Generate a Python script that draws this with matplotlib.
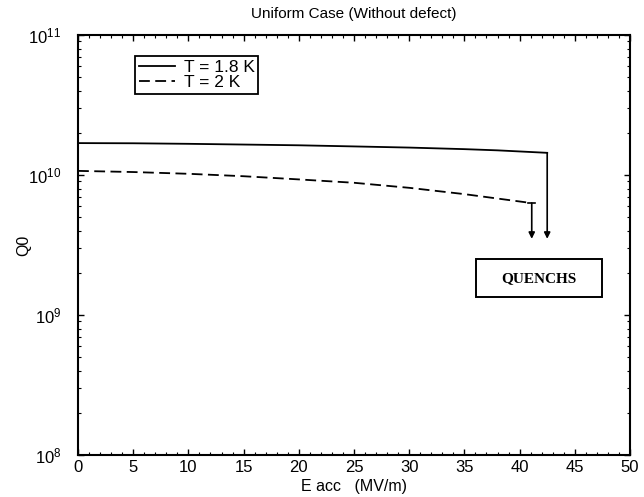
import numpy as np
import matplotlib.pyplot as plt
from matplotlib.patches import Rectangle
from matplotlib.ticker import MultipleLocator, LogLocator, NullFormatter

plt.rcParams['font.family'] = ['Liberation Sans', 'DejaVu Sans']
plt.rcParams['mathtext.fontset'] = 'custom'
plt.rcParams['mathtext.rm'] = 'Liberation Sans'
plt.rcParams['mathtext.it'] = 'Liberation Sans'

e_18 = [0, 5, 10, 15, 20, 25, 30, 35, 38, 42.5]
q_18 = [1.69e10, 1.685e10, 1.67e10, 1.65e10, 1.63e10, 1.6e10, 1.57e10, 1.53e10, 1.5e10, 1.44e10]
e_2 = [0, 5, 10, 15, 20, 25, 30, 35, 41.1]
q_2 = [1.07e10, 1.05e10, 1.02e10, 9.8e9, 9.3e9, 8.8e9, 8.1e9, 7.3e9, 6.3e9]
quench_q = 3.5e9
y_ticks = [1e8, 1e9, 1e10, 1e11]
y_labels = ['$10^{8}$', '$10^{9}$', '$10^{10}$', '$10^{11}$']

fig = plt.figure(figsize=(6.44, 4.97), dpi=100)
ax = fig.add_axes([78 / 644, 42 / 497, 552 / 644, 420 / 497])

ax.plot(e_18, q_18, color='black', lw=1.3, label='T = 1.8 K')
ax.plot(e_2, q_2, color='black', lw=1.3, ls=(0, (6, 3)), label='T = 2 K')

# quench arrows
for e_end, q_end in [(e_18[-1], q_18[-1]), (e_2[-1], q_2[-1])]:
    ax.annotate('', xy=(e_end, quench_q), xytext=(e_end, q_end),
                arrowprops=dict(arrowstyle='-|>', color='black', lw=1.2,
                                mutation_scale=9, shrinkA=0, shrinkB=0))
ax.plot([e_2[-1] - 0.3, e_2[-1] + 0.3], [q_2[-1], q_2[-1]], color='black', lw=1.2)

ax.add_patch(Rectangle((0.721, 0.376), 0.228, 0.0905, transform=ax.transAxes,
                       fc='white', ec='black', lw=1.4))
ax.text(0.835, 0.421, 'QUENCHS', transform=ax.transAxes, ha='center', va='center',
        fontsize=11, fontweight='bold', family='Liberation Serif')

ax.set_yscale('log')
ax.set_xlim(0, 50)
ax.set_ylim(1e8, 1e11)
ax.xaxis.set_major_locator(MultipleLocator(5))
ax.xaxis.set_minor_locator(MultipleLocator(1))
ax.set_yticks(y_ticks)
ax.set_yticklabels(y_labels)
ax.yaxis.set_minor_locator(LogLocator(base=10, subs=np.arange(2, 10), numticks=10))
ax.yaxis.set_minor_formatter(NullFormatter())
ax.tick_params(which='both', direction='in', top=True, right=True, labelsize=12)
ax.tick_params(axis='y', which='major', pad=12)
ax.tick_params(which='major', length=4, width=1)
ax.tick_params(which='minor', length=2, width=0.8)
for s in ax.spines.values():
    s.set_linewidth(1.5)

ax.set_title('Uniform Case (Without defect)', fontsize=11, pad=12)
ax.set_xlabel('E acc   (MV/m)', fontsize=11.5, labelpad=3)
ax.set_ylabel('Q0', fontsize=11.5)
ax.yaxis.set_label_coords(-0.085, 0.5)

leg = ax.legend(loc='upper left', bbox_to_anchor=(0.104, 0.95), fontsize=12.5,
                handlelength=2.1, fancybox=False, framealpha=1, edgecolor='black',
                borderpad=0.2, labelspacing=0.02, handletextpad=0.5, borderaxespad=0)
leg.get_frame().set_linewidth(1.3)

fig.savefig('out.png', dpi=100)
